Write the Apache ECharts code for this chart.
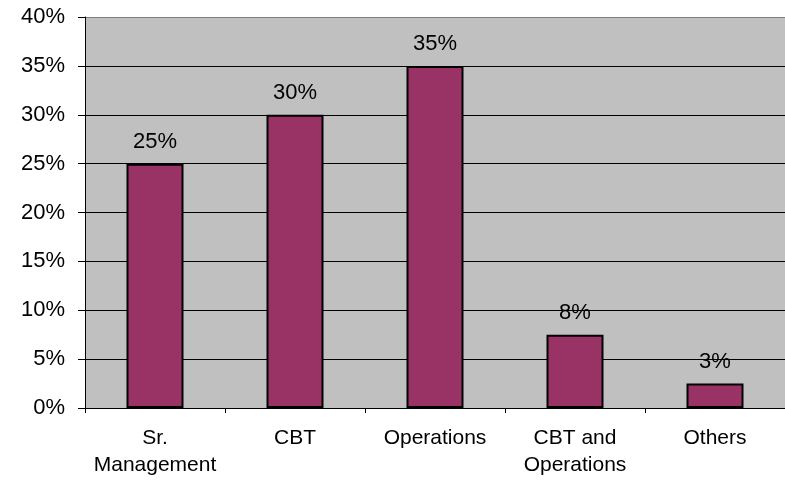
<!DOCTYPE html>
<html><head><meta charset="utf-8">
<script src="https://cdn.jsdelivr.net/npm/echarts@6/dist/echarts.min.js"></script>
<style>html,body{margin:0;padding:0;background:#fff}#c{width:785px;height:480px}</style>
</head><body><div id="c"></div>
<script>
const categories = ['Sr.\nManagement', 'CBT', 'Operations', 'CBT and\nOperations', 'Others'];
const values = [25, 30, 35, 7.5, 2.5];
const valueLabels = ['25%', '30%', '35%', '8%', '3%'];
const yTicks = [0, 5, 10, 15, 20, 25, 30, 35, 40];

const font = 'Arial, "Liberation Sans", sans-serif';
const chart = echarts.init(document.getElementById('c'), null, {renderer: 'canvas'});
chart.setOption({
  animation: false,
  grid: {left: 85, right: 0, top: 17, bottom: 72, show: true, backgroundColor: '#C0C0C0', borderWidth: 0},
  xAxis: {
    type: 'category', data: categories,
    axisLine: {lineStyle: {color: '#000', width: 1}},
    axisTick: {show: true, length: 5, interval: 0, lineStyle: {color: '#000'}},
    axisLabel: {color: '#000', fontSize: 21, fontFamily: font, lineHeight: 27, margin: 17, interval: 0}
  },
  yAxis: {
    type: 'value', min: 0, max: 40, interval: 5,
    axisLine: {show: true, lineStyle: {color: '#000', width: 1}},
    axisTick: {show: true, length: 7, lineStyle: {color: '#000'}},
    axisLabel: {color: '#000', fontSize: 22, fontFamily: font, margin: 20,
      formatter: v => yTicks.indexOf(v) >= 0 ? v + '%' : ''},
    splitLine: {show: true, lineStyle: {color: ['#000','#000','#000','#000','#000','#000','#000','#000','#808080'], width: 1}}
  },
  series: [{
    type: 'bar', data: values, barWidth: 57,
    itemStyle: {color: '#993366', borderColor: '#000', borderWidth: 2},
    label: {show: true, position: 'top', distance: 11, color: '#000', fontSize: 22, fontFamily: font,
      formatter: p => valueLabels[p.dataIndex]}
  }]
});
</script></body></html>
